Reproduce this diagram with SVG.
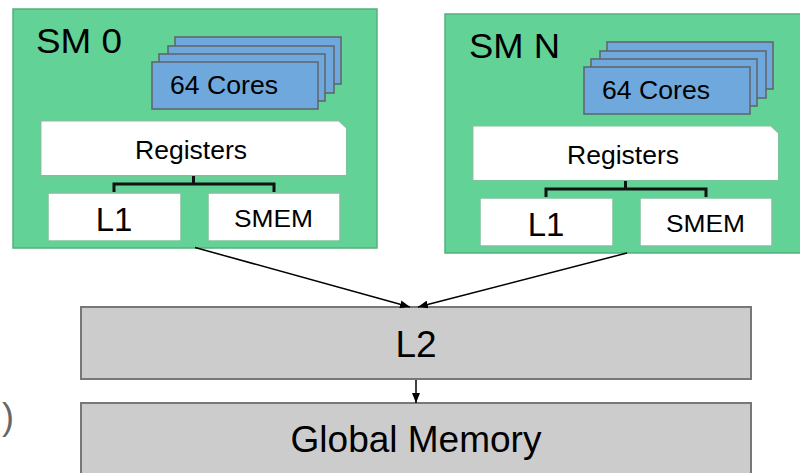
<svg xmlns="http://www.w3.org/2000/svg" width="800" height="473" viewBox="0 0 800 473">
  <style>
    text { font-family: "Liberation Sans", Arial, sans-serif; fill: #000; }
    .sm { fill: #63d297; stroke: #55b07e; stroke-width: 1.5; }
    .core { fill: #6fa8dc; stroke: #5f6368; stroke-width: 1.5; }
    .mem { fill: #ffffff; stroke: #7cc49a; stroke-width: 1.5; }
    .cache { fill: #cccccc; stroke: #777777; stroke-width: 2; }
    .bus { fill: none; stroke: #111; stroke-width: 3; }
    .link { stroke: #000; stroke-width: 1.5; fill: none; marker-end: url(#head); }
  </style>
  <defs>
    <marker id="head" markerUnits="userSpaceOnUse" markerWidth="10" markerHeight="8" refX="10" refY="4" orient="auto">
      <path d="M0,0 L10,4 L0,8 Z" fill="#000"/>
    </marker>
  </defs>

  <rect width="800" height="473" fill="#ffffff"/>

  <!-- streaming multiprocessor 0 -->
  <g id="sm0">
    <rect class="sm" x="13" y="9" width="364" height="239"/>
    <text x="36" y="53" font-size="35" textLength="86" lengthAdjust="spacingAndGlyphs">SM 0</text>
    <g id="sm0-cores">
      <rect class="core" x="175" y="37" width="166" height="47"/>
      <rect class="core" x="168" y="46" width="166" height="47"/>
      <rect class="core" x="159" y="54" width="166" height="47"/>
      <rect class="core" x="152" y="62" width="166" height="47"/>
      <text x="170" y="93.5" font-size="26" textLength="108" lengthAdjust="spacingAndGlyphs">64 Cores</text>
    </g>
    <g id="sm0-registers">
      <path class="mem" d="M40.7,120.7 H339 L346.7,128 V175.7 H40.7 Z"/>
      <text x="191" y="159" font-size="25" text-anchor="middle" textLength="112" lengthAdjust="spacingAndGlyphs">Registers</text>
    </g>
    <path class="bus" d="M193.5,176 V184 M114,192 V184 H274 V192"/>
    <g id="sm0-l1">
      <rect class="mem" x="48" y="193" width="133" height="48"/>
      <text x="114" y="231" font-size="33" text-anchor="middle">L1</text>
    </g>
    <g id="sm0-smem">
      <rect class="mem" x="208" y="193" width="132" height="48"/>
      <text x="273.5" y="227" font-size="24.5" text-anchor="middle" textLength="79" lengthAdjust="spacingAndGlyphs">SMEM</text>
    </g>
  </g>

  <!-- streaming multiprocessor N -->
  <g id="smN">
    <rect class="sm" x="445" y="14" width="364" height="239"/>
    <text x="469" y="58" font-size="35" textLength="91" lengthAdjust="spacingAndGlyphs">SM N</text>
    <g id="smN-cores">
      <rect class="core" x="607" y="42" width="166" height="47"/>
      <rect class="core" x="600" y="51" width="166" height="47"/>
      <rect class="core" x="591" y="59" width="166" height="47"/>
      <rect class="core" x="584" y="67" width="166" height="47"/>
      <text x="602" y="98.5" font-size="26" textLength="108" lengthAdjust="spacingAndGlyphs">64 Cores</text>
    </g>
    <g id="smN-registers">
      <path class="mem" d="M472.7,125.7 H771 L778.7,133 V180.7 H472.7 Z"/>
      <text x="623" y="164" font-size="25" text-anchor="middle" textLength="112" lengthAdjust="spacingAndGlyphs">Registers</text>
    </g>
    <path class="bus" d="M625.5,181 V189 M546,197 V189 H706 V197"/>
    <g id="smN-l1">
      <rect class="mem" x="480" y="198" width="133" height="48"/>
      <text x="546" y="236" font-size="33" text-anchor="middle">L1</text>
    </g>
    <g id="smN-smem">
      <rect class="mem" x="640" y="198" width="132" height="48"/>
      <text x="705.5" y="232" font-size="24.5" text-anchor="middle" textLength="79" lengthAdjust="spacingAndGlyphs">SMEM</text>
    </g>
  </g>

  <!-- shared cache and device memory -->
  <g id="l2">
    <rect class="cache" x="81" y="307" width="670" height="72"/>
    <text x="416" y="357" font-size="37" text-anchor="middle">L2</text>
  </g>
  <g id="global-memory">
    <rect class="cache" x="81" y="403" width="670" height="80"/>
    <text x="416" y="452" font-size="37" text-anchor="middle">Global Memory</text>
  </g>

  <!-- margin label -->
  <text x="2" y="429" font-size="36" style="fill:#666">)</text>

  <g id="connectors">
    <line class="link" x1="195" y1="247.5" x2="410" y2="307"/>
    <line class="link" x1="627" y1="253" x2="418" y2="307"/>
    <line class="link" x1="416" y1="380" x2="416" y2="403"/>
  </g>
</svg>
